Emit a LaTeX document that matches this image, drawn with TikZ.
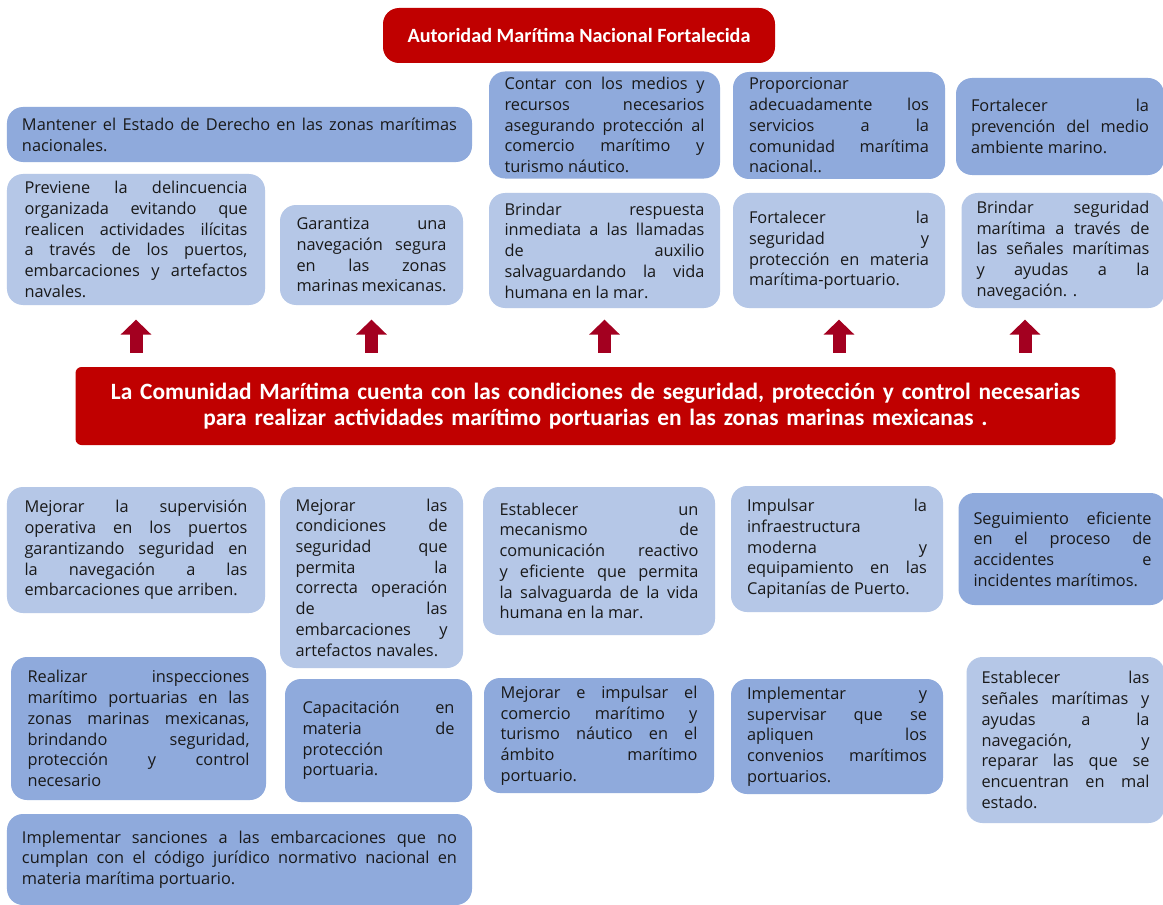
\documentclass[tikz,border=0pt]{standalone}
\usepackage{fontspec}
\setmainfont{Carlito}
\newfontfamily\cajafont{Open Sans}
\usepackage{xcolor}
\usepackage{tikz}
\usetikzlibrary{arrows.meta,positioning}

\definecolor{azulclaro}{RGB}{181,199,231}
\definecolor{azulmedio}{RGB}{143,170,220}
\definecolor{rojo}{RGB}{192,0,0}
\definecolor{guinda}{RGB}{163,0,32}
\hyphenpenalty=10000
\tolerance=10000

\begin{document}
\begin{tikzpicture}
	\tikzstyle{every node} = [rounded corners = 0.32cm, inner ysep = 2pt, inner xsep = 0.3cm, align = justify, text = black!90,
		font = \cajafont\fontsize{9.3}{11.8}\selectfont]
	\tikzstyle{claro} = [fill = azulclaro]
	\tikzstyle{medio} = [fill = azulmedio]
	\tikzstyle{titulo} = [fill = rojo, text = white, align = center]
	\tikzstyle{flecha} = [draw = guinda, line width = 0.26cm, -{Triangle[width = 0.6cm, length = 0.3cm]}]
\useasboundingbox[fill = white] (0, 0) rectangle (23.26, -18.1);

% encabezado
\node[titulo, minimum width = 7.84cm, minimum height = 1.1cm, font = \rmfamily\fontsize{11.5}{13}\selectfont\bfseries] (autoridad) at (11.58, -0.71) {Autoridad Marítima Nacional Fortalecida};

% fila superior
\node[medio, minimum width = 9.3cm, minimum height = 1.1cm, text width = 8.7cm] (estado) at (4.79, -2.69) {Mantener el Estado de Derecho en las zonas marítimas\linebreak nacionales.};
\node[claro, minimum width = 5.16cm, minimum height = 2.62cm, text width = 4.46cm] (previene) at (2.72, -4.79) {Previene la delincuencia\linebreak organizada evitando que\linebreak realicen actividades ilícitas\linebreak a través de los puertos,\linebreak embarcaciones y artefactos\linebreak navales.};
\node[claro, minimum width = 3.66cm, minimum height = 2.0cm, text width = 3.0cm] (garantiza) at (7.43, -5.1) {Garantiza una\linebreak navegación segura\linebreak en las zonas\linebreak marinas mexicanas.};
\node[medio, minimum width = 4.62cm, minimum height = 2.14cm, text width = 4.0cm] (contar) at (12.09, -2.5) {Contar con los medios y\linebreak recursos necesarios\linebreak asegurando protección al\linebreak comercio marítimo y\linebreak turismo náutico.};
\node[claro, minimum width = 4.62cm, minimum height = 2.3cm, text width = 4.0cm] (respuesta) at (12.09, -5.01) {Brindar respuesta\linebreak inmediata a las llamadas\linebreak de auxilio\linebreak salvaguardando la vida\linebreak humana en la mar.};
\node[medio, minimum width = 4.24cm, minimum height = 2.14cm, text width = 3.6cm] (proporcionar) at (16.78, -2.51) {Proporcionar\linebreak adecuadamente los\linebreak servicios a la\linebreak comunidad marítima\linebreak nacional..};
\node[claro, minimum width = 4.24cm, minimum height = 2.3cm, text width = 3.6cm] (segprot) at (16.78, -5.01) {Fortalecer la\linebreak seguridad y\linebreak protección en materia\linebreak marítima-portuario.};
\node[medio, minimum width = 4.12cm, minimum height = 1.94cm, text width = 3.56cm] (ambiente) at (21.2, -2.53) {Fortalecer la\linebreak prevención del medio\linebreak ambiente marino.};
\node[claro, minimum width = 4.0cm, minimum height = 2.3cm, text width = 3.46cm] (senales) at (21.26, -5.01) {Brindar seguridad\linebreak marítima a través de\linebreak las señales marítimas\linebreak y ayudas a la\linebreak navegación. .};

% objetivo central
\node[titulo, rounded corners = 0.12cm, minimum width = 20.66cm, minimum height = 1.56cm, text width = 20.2cm, font = \rmfamily\fontsize{13.3}{14.4}\selectfont\bfseries] (banner) at (11.91, -8.12) {La Comunidad Marítima cuenta con las condiciones de seguridad, protección y control necesarias\\ para realizar actividades marítimo portuarias en las zonas marinas mexicanas .};

% flechas hacia arriba
\coordinate (ultima) at (20.5, -6.4);
\foreach \b in {previene, garantiza, respuesta, segprot, ultima}
	\draw[flecha] ([yshift = 0.28cm]banner.north -| \b) -- ++(0, 0.66);

% fila inferior
\node[claro, minimum width = 5.16cm, minimum height = 2.52cm, text width = 4.46cm] (supervision) at (2.72, -11.0) {Mejorar la supervisión\linebreak operativa en los puertos\linebreak garantizando seguridad en\linebreak la navegación a las\linebreak embarcaciones que arriben.};
\node[claro, minimum width = 3.66cm, minimum height = 3.62cm, text width = 3.04cm] (condiciones) at (7.43, -11.55) {Mejorar las\linebreak condiciones de\linebreak seguridad que\linebreak permita la\linebreak correcta operación\linebreak de las\linebreak embarcaciones y\linebreak artefactos navales.};
\node[claro, minimum width = 4.64cm, minimum height = 2.96cm, text width = 3.98cm] (mecanismo) at (11.98, -11.22) {Establecer un\linebreak mecanismo de\linebreak comunicación reactivo\linebreak y eficiente que permita\linebreak la salvaguarda de la vida\linebreak humana en la mar.};
\node[claro, minimum width = 4.24cm, minimum height = 2.52cm, text width = 3.6cm] (impulsar) at (16.74, -10.98) {Impulsar la\linebreak infraestructura\linebreak moderna y\linebreak equipamiento en las\linebreak Capitanías de Puerto.};
\node[medio, minimum width = 4.02cm, minimum height = 2.24cm, text width = 3.56cm] (seguimiento) at (21.25, -10.98) {Seguimiento eficiente\linebreak en el proceso de\linebreak accidentes e\linebreak incidentes marítimos.};

\node[medio, minimum width = 5.1cm, minimum height = 2.86cm, text width = 4.44cm] (inspecciones) at (2.77, -14.57) {Realizar inspecciones\linebreak marítimo portuarias en las\linebreak zonas marinas mexicanas,\linebreak brindando seguridad,\linebreak protección y control\linebreak necesario};
\node[medio, minimum width = 3.74cm, minimum height = 2.46cm, text width = 3.04cm] (capacitacion) at (7.57, -14.81) {Capacitación en\linebreak materia de\linebreak protección\linebreak portuaria.};
\node[medio, minimum width = 4.6cm, minimum height = 2.3cm, text width = 3.94cm] (comercio) at (11.98, -14.71) {Mejorar e impulsar el\linebreak comercio marítimo y\linebreak turismo náutico en el\linebreak ámbito marítimo\linebreak portuario.};
\node[medio, minimum width = 4.24cm, minimum height = 2.3cm, text width = 3.6cm] (convenios) at (16.74, -14.73) {Implementar y\linebreak supervisar que se\linebreak apliquen los\linebreak convenios marítimos\linebreak portuarios.};
\node[claro, minimum width = 3.9cm, minimum height = 3.32cm, text width = 3.36cm] (reparar) at (21.31, -14.8) {Establecer las\linebreak señales marítimas y\linebreak ayudas a la\linebreak navegación, y\linebreak reparar las que se\linebreak encuentran en mal\linebreak estado.};

\node[medio, minimum width = 9.3cm, minimum height = 1.82cm, text width = 8.7cm] (sanciones) at (4.79, -17.19) {Implementar sanciones a las embarcaciones que no\linebreak cumplan con el código jurídico normativo nacional en\linebreak materia marítima portuario.};
\end{tikzpicture}
\end{document}
